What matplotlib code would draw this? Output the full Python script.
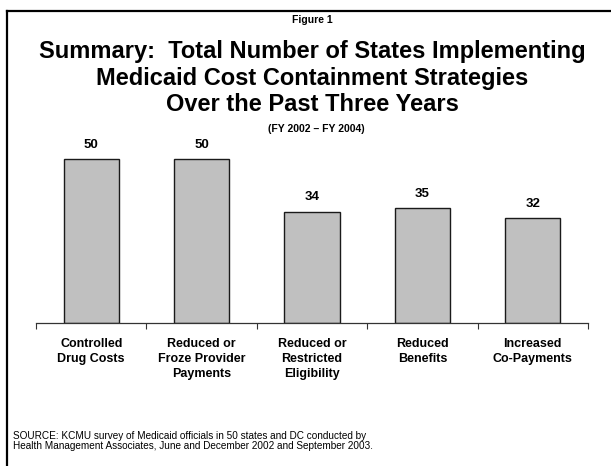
import numpy as np
import matplotlib
matplotlib.use("Agg")
import matplotlib.pyplot as plt
from matplotlib.lines import Line2D

plt.rcParams["font.family"] = ["Liberation Sans", "DejaVu Sans"]

# ── data ──────────────────────────────────────────
categories = [
    "Controlled\nDrug Costs",
    "Reduced or\nFroze Provider\nPayments",
    "Reduced or\nRestricted\nEligibility",
    "Reduced\nBenefits",
    "Increased\nCo-Payments",
]
states = [50, 50, 34, 35, 32]

title = ("Summary:  Total Number of States Implementing\n"
         "Medicaid Cost Containment Strategies\n"
         "Over the Past Three Years")
subtitle = "(FY 2002 \u2013 FY 2004)"
source = ("SOURCE: KCMU survey of Medicaid officials in 50 states and DC conducted by\n"
          "Health Management Associates, June and December 2002 and September 2003.")

# ── figure ────────────────────────────────────────
W, H = 611, 466
fig = plt.figure(figsize=(W / 100, H / 100), dpi=100)

# frame lines on the left and top
fig.add_artist(Line2D([7 / W, 7 / W], [0, 1 - 11 / H], color="black", lw=1.6))
fig.add_artist(Line2D([7 / W, 1], [1 - 11 / H, 1 - 11 / H], color="black", lw=1.6))

cx = 312 / W
fig.text(cx, 1 - 20 / H, "Figure 1", ha="center", va="center",
         fontsize=7.5, fontweight="bold")
fig.text(cx, 1 - 78 / H, title, ha="center", va="center",
         fontsize=17, fontweight="bold", linespacing=1.19)
fig.text(316 / W, 1 - 129 / H, subtitle, ha="center", va="center",
         fontsize=7.5, fontweight="bold")

ax = fig.add_axes([36 / W, (H - 323) / H, 552 / W, 180 / H])
x = np.arange(len(states))
bars = ax.bar(x, states, width=0.5, color="#C0C0C0", edgecolor="#1a1a1a", linewidth=1.0)

for xi, v in zip(x, states):
    ax.annotate(f"{v}", (xi, v), xytext=(0, 6), textcoords="offset points",
                ha="center", va="bottom", fontsize=9.5, fontweight="bold")

ax.set_xlim(-0.5, len(states) - 0.5)
ax.set_ylim(0, 55)
ax.set_xticks(np.arange(len(states) + 1) - 0.5)
ax.set_xticklabels([])
ax.tick_params(axis="x", length=4, width=0.8, color="#333333", direction="out")
ax.set_yticks([])
for s in ["top", "right", "left"]:
    ax.spines[s].set_visible(False)
ax.spines["bottom"].set_color("#333333")
ax.spines["bottom"].set_linewidth(0.9)

for xi, lab in zip(x, categories):
    ax.annotate(lab, (xi, 0), xytext=(0, -11), textcoords="offset points",
                ha="center", va="top", fontsize=9, fontweight="bold", linespacing=1.33)

fig.text(13 / W, 1 - 441 / H, source, ha="left", va="center",
         fontsize=7.2, linespacing=1.0)

fig.savefig("out.png", dpi=100)
